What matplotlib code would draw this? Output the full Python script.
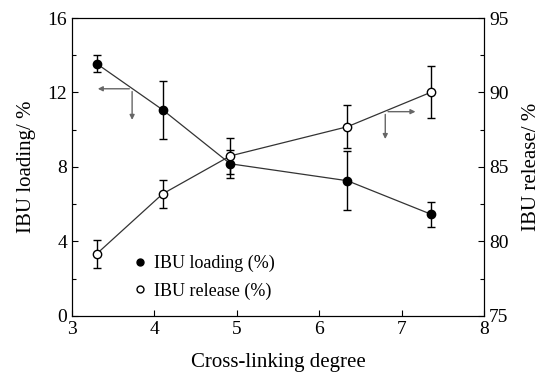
import numpy as np
import matplotlib.pyplot as plt
from matplotlib.lines import Line2D

plt.rcParams['font.family'] = ['Liberation Serif', 'DejaVu Serif']

# data
degree = [3.30, 4.10, 4.92, 6.34, 7.36]
loading = [13.55, 11.07, 8.17, 7.26, 5.45]
loading_err = [0.45, 1.55, 0.75, 1.6, 0.65]
release = [79.16, 83.19, 85.74, 87.7, 90.03]
release_err = [0.95, 0.95, 1.2, 1.45, 1.75]

fig = plt.figure(figsize=(5.49, 3.76), dpi=100)
ax = fig.add_axes([0.131, 0.16, 0.751, 0.792])
ax2 = ax.twinx()

ax.errorbar(degree, loading, yerr=loading_err, color='#333333', lw=0.9,
            ecolor='black', elinewidth=1.0, capsize=3, capthick=1.0,
            marker='o', ms=6, mfc='black', mec='black', zorder=3)
ax2.errorbar(degree, release, yerr=release_err, color='#333333', lw=0.9,
             ecolor='black', elinewidth=1.0, capsize=3, capthick=1.0,
             marker='o', ms=6, mfc='white', mec='black', zorder=3)

ax.set_xlim(3, 8)
ax.set_ylim(0, 16)
ax2.set_ylim(75, 95)
ax.set_xticks([3, 4, 5, 6, 7, 8])
ax.set_yticks([0, 4, 8, 12, 16])
ax.set_yticks([2, 6, 10, 14], minor=True)
ax2.set_yticks([75, 80, 85, 90, 95])
ax2.set_yticks([77.5, 82.5, 87.5, 92.5], minor=True)

ax.tick_params(axis='both', which='both', direction='in', labelsize=14, width=0.8)
ax.tick_params(axis='x', top=False)
ax2.tick_params(axis='y', which='both', direction='in', labelsize=14, width=0.8)
ax.tick_params(which='major', length=4)
ax.tick_params(which='minor', length=3)
ax2.tick_params(which='major', length=4)
ax2.tick_params(which='minor', length=3)

ax.set_xlabel('Cross-linking degree', fontsize=15, labelpad=11)
ax.set_ylabel('IBU loading/ %', fontsize=15, labelpad=8)
ax2.set_ylabel('IBU release/ %', fontsize=15, labelpad=10)

# arrows pointing to the axis of each series
arrow_col = '#666666'
aprops = dict(arrowstyle='-|>', color=arrow_col, lw=1.0, mutation_scale=7)
ax.annotate('', xy=(3.28, 12.2), xytext=(3.73, 12.2), arrowprops=aprops)
ax.annotate('', xy=(3.73, 10.38), xytext=(3.73, 12.2), arrowprops=aprops)
ax.annotate('', xy=(7.20, 10.97), xytext=(6.80, 10.97), arrowprops=aprops)
ax.annotate('', xy=(6.80, 9.35), xytext=(6.80, 10.97), arrowprops=aprops)

handles = [Line2D([], [], ls='none', marker='o', ms=5, mfc='black', mec='black'),
           Line2D([], [], ls='none', marker='o', ms=5, mfc='white', mec='black')]
ax.legend(handles, ['IBU loading (%)', 'IBU release (%)'], loc='lower left',
          bbox_to_anchor=(0.112, 0.0), frameon=False, fontsize=13,
          handlelength=0.6, handletextpad=0.5, labelspacing=0.55)

fig.savefig('out.png', dpi=100)
